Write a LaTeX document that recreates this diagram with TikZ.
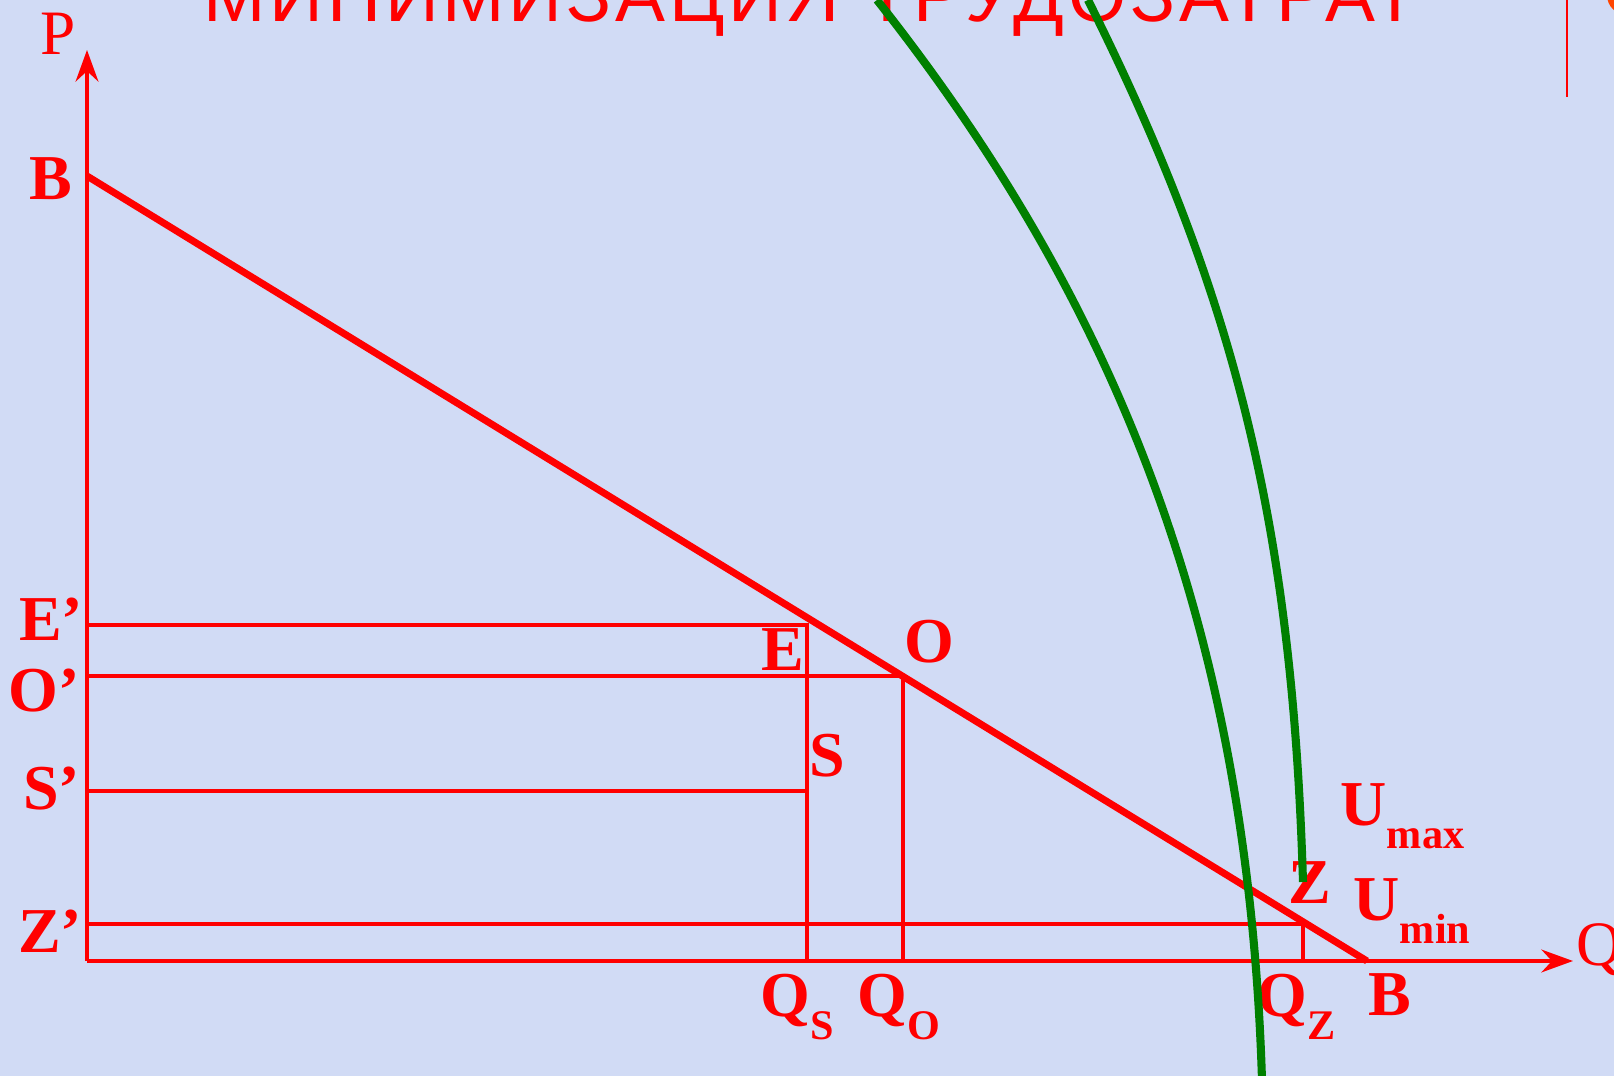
\documentclass[tikz,border=0pt]{standalone}
\usepackage{fontspec}
\setmainfont{Liberation Serif}
\newfontfamily\titlefont[LetterSpace=5]{Liberation Sans}
\usetikzlibrary{arrows.meta}
\definecolor{bg}{RGB}{209,219,245}
\definecolor{lred}{RGB}{255,0,0}
\definecolor{lorange}{RGB}{255,69,0}
\definecolor{lgreen}{RGB}{0,128,0}
\tikzset{
  axisline/.style={draw=lred, line width=0.9pt, -{Stealth[length=9pt,width=6.5pt,inset=3pt]}},
  guide/.style={draw=lred, line width=0.9pt},
  budget/.style={draw=lred, line width=2pt},
  indiff/.style={draw=lgreen, line width=2.3pt},
  lbl/.style={text=lred, font=\fontsize{18.2pt}{18.2pt}\selectfont\bfseries, inner sep=0pt, anchor=base},
  lblw/.style={lbl, anchor=base west},
  lble/.style={lbl, anchor=base east},
  axlbl/.style={text=lred, font=\fontsize{18pt}{18pt}\selectfont, inner sep=0pt, anchor=base},
}
\newcommand\subtxt[1]{\raisebox{-6.8pt}{\fontsize{12pt}{12pt}\selectfont #1}}
\begin{document}
\begin{tikzpicture}[x=0.1mm,y=-0.1mm]
\clip (0,0) rectangle (1614,1076);
\fill[bg] (0,0) rectangle (1614,1076);

% title (cut off at the top)
\node[anchor=base west, inner sep=0pt, text=lred, font=\titlefont\fontsize{21.3pt}{21.3pt}\selectfont] (title) at (203,22) {МИНИМИЗАЦИЯ ТРУДОЗАТРАТ};
\draw[lred, line width=0.65pt] (1567,0) -- (1567,97);
\fill[lorange] (1627,-5) circle (20);

% coordinates
\coordinate (org) at (87,961);
\coordinate (ytip) at (87,50);
\coordinate (xtip) at (1573,961);
\coordinate (Bp) at (87,176);
\coordinate (Bq) at (1367,961);
\coordinate (Ep) at (87,625);
\coordinate (E) at (807,625);
\coordinate (Qs) at (807,961);
\coordinate (Op) at (87,676);
\coordinate (O) at (903,676);
\coordinate (Qo) at (903,961);
\coordinate (Sp) at (87,791);
\coordinate (S) at (807,791);
\coordinate (Zp) at (87,924);
\coordinate (Z) at (1303,924);
\coordinate (Qz) at (1303,961);
\coordinate (UminTop) at (877,0);
\coordinate (UminBot) at (1262,1080);
\coordinate (UmaxTop) at (1088,0);
\coordinate (UmaxBot) at (1303,882);

% guide lines
\draw[guide] (Ep) -- (E) -- (Qs);
\draw[guide] (Op) -- (O) -- (Qo);
\draw[guide] (Sp) -- (S);
\draw[guide] (Zp) -- (Z) -- (Qz);

% axes
\draw[axisline] (org) -- (ytip);
\draw[axisline] (org) -- (xtip);

% budget line
\draw[budget] (Bp) -- (Bq);

% labels
\node[axlbl] (lP) at (58,55) {P};
\node[axlbl, anchor=base west] (lQ) at (1576,965) {Q};
\node[lbl] (lB1) at (51,200) {B};
\node[lble] (lE1) at (84,640) {E’};
\node[lble] (lO1) at (80,711) {O’};
\node[lble] (lS1) at (81,809) {S’};
\node[lble] (lZ1) at (83,952) {Z’};
\node[lbl] (lE) at (783,670) {E};
\node[lbl] (lO) at (929,662) {O};
\node[lbl] (lS) at (827,776) {S};
\node[lblw] (lQs) at (760,1016) {Q\subtxt{S}};
\node[lblw] (lQo) at (857,1016) {Q\subtxt{O}};
\node[lblw] (lQz) at (1257,1016) {Q\subtxt{Z}};
\node[lbl] (lB2) at (1390,1015) {B};
\node[lbl] (lZ) at (1310,903) {Z};
\node[lblw] (lUmax) at (1340,825) {U\subtxt{max}};
\node[lblw] (lUmin) at (1353,920) {U\subtxt{min}};

% indifference curves
\draw[indiff] (UminTop) .. controls (1114,300) and (1248,626) .. (UminBot);
\draw[indiff] (UmaxTop) .. controls (1238,300) and (1292.5,532) .. (UmaxBot);
\end{tikzpicture}
\end{document}
